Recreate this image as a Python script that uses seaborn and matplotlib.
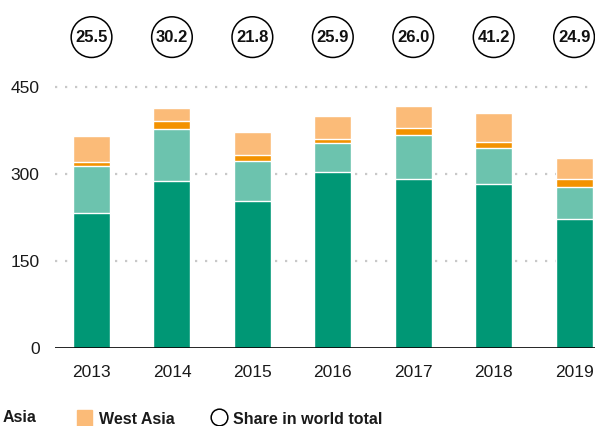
import numpy as np
import matplotlib
matplotlib.use("Agg")
import matplotlib.pyplot as plt
import seaborn as sns
import pandas as pd
from matplotlib.patches import Patch
from matplotlib.lines import Line2D

# data (billions of dollars)
years = ["2013", "2014", "2015", "2016", "2017", "2018", "2019"]
east_asia = [232, 288, 254, 303, 291, 282, 222]
south_east_asia = [82, 90, 68, 51, 77, 62, 56]
south_asia = [7, 13, 10, 6, 11, 12, 13]
west_asia = [44, 22, 40, 40, 38, 50, 36]
share_world = ["25.5", "30.2", "21.8", "25.9", "26.0", "41.2", "24.9"]

series_names = ["East Asia", "South-East Asia", "South Asia", "West Asia"]
colors = ["#009775", "#6cc3ae", "#f39200", "#fbbb78"]

sns.set_style("white")
plt.rcParams["font.family"] = ["Liberation Sans", "DejaVu Sans"]

df = pd.DataFrame({"year": years, "East Asia": east_asia,
                   "South-East Asia": south_east_asia,
                   "South Asia": south_asia, "West Asia": west_asia})
cum = df[series_names].cumsum(axis=1)

fig = plt.figure(figsize=(5.95, 4.26), dpi=100)
ax = fig.add_axes([55 / 595, 78 / 426, 540 / 595, 348 / 426])

# draw cumulative bars from the top layer down so each one covers the next
for name, col in reversed(list(zip(series_names, colors))):
    sns.barplot(x=df["year"], y=cum[name], color=col, width=0.46,
                edgecolor="white", linewidth=1.0, saturation=1, ax=ax,
                zorder=3)

ax.set_ylim(0, 600)
ax.set_xlim(-0.454, 6.26)
ax.set_yticks([0, 150, 300, 450])
ax.set_xlabel("")
ax.set_ylabel("")
for s in ax.spines.values():
    s.set_visible(False)
ax.axhline(0, color="black", lw=1.2, zorder=4)
for v in [150, 300, 450]:
    ax.axhline(v, color="#c8c8c8", lw=1.6, ls=(0, (1, 3.5)), zorder=1)
ax.tick_params(axis="both", length=0, labelsize=12.5, colors="#1a1a1a")
ax.tick_params(axis="y", pad=11)
ax.tick_params(axis="x", pad=12)

# share in world total circles
for i, s in enumerate(share_world):
    ax.text(i, 536, s, ha="center", va="center", fontsize=12,
            fontweight="bold", color="#111111",
            bbox=dict(boxstyle="circle,pad=0.25", fc="white", ec="black", lw=1.1))

# legend (left part of the row is cut off in the reference)
fig.text(3 / 595, 1 - 418 / 426, "Asia", ha="left", va="center",
         fontsize=11.5, fontweight="bold", color="#1a1a1a")
leg_kw = dict(loc="center left", frameon=False,
              prop={"weight": "bold", "size": 11.5},
              handlelength=0.95, handleheight=1.3, handletextpad=0.45,
              borderpad=0, borderaxespad=0)
leg1 = fig.legend(handles=[Patch(color=colors[3], label=series_names[3])],
                  bbox_to_anchor=(77 / 595, 1 - 419 / 426), **leg_kw)
for t in leg1.get_texts():
    t.set_color("#1a1a1a")
leg2 = fig.legend(handles=[Line2D([], [], marker="o", ls="", mfc="white",
                                  mec="black", mew=1.1, markersize=12,
                                  label="Share in world total")],
                  bbox_to_anchor=(211 / 595, 1 - 419 / 426), **leg_kw)
for t in leg2.get_texts():
    t.set_color("#1a1a1a")

fig.savefig("out.png", dpi=100)
